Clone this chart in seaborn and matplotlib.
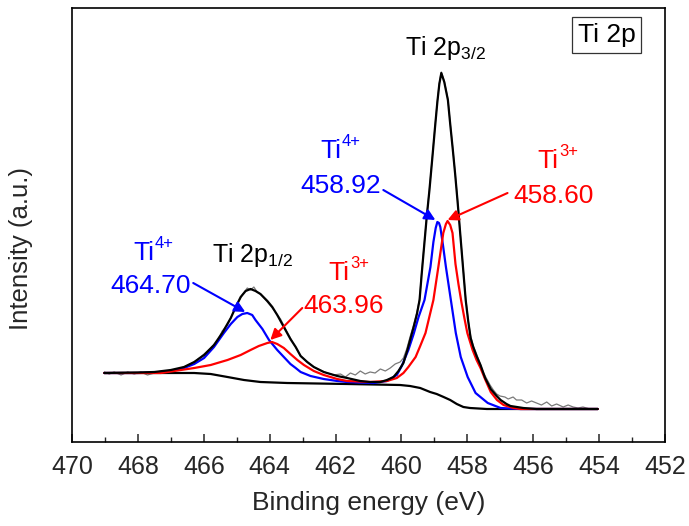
import numpy as np
import pandas as pd
import matplotlib
matplotlib.use("Agg")
import matplotlib.pyplot as plt
import seaborn as sns

# ---------------- data (binding energy in eV, intensity in a.u.) ----------------
raw_e = [469.02, 468.87, 468.72, 468.51, 468.31, 468.11, 467.91, 467.71, 467.50, 467.30, 467.10,
         466.90, 466.60, 466.29, 465.99, 465.79, 465.59, 465.44, 465.28, 465.13, 464.98, 464.83,
         464.68, 464.58, 464.48, 464.38, 464.28, 464.07, 463.92, 463.67, 463.47, 463.27, 463.06,
         462.86, 462.66, 462.46, 462.26, 462.06, 461.85, 461.70, 461.55, 461.40, 461.25, 461.10,
         460.95, 460.80, 460.64, 460.49, 460.34, 460.19, 460.04, 459.94, 459.84, 459.74, 459.63,
         459.53, 459.45, 459.38, 459.30, 459.23, 459.15, 459.06, 458.98, 458.91, 458.85, 458.79,
         458.70, 458.59, 458.52, 458.44, 458.37, 458.29, 458.20, 458.12, 458.05, 457.97, 457.90,
         457.82, 457.72, 457.62, 457.52, 457.41, 457.31, 457.21, 457.11, 457.01, 456.86, 456.76,
         456.61, 456.51, 456.35, 456.20, 456.05, 455.90, 455.75, 455.59, 455.44, 455.29, 455.09,
         454.94, 454.79, 454.64, 454.49, 454.28, 454.04]
raw_i = [70, 68, 70, 67, 70, 68, 70, 67, 69, 70, 71,
         72, 75, 80, 88, 94, 101, 111, 117, 128, 138, 147,
         154, 152, 155, 150, 148, 140, 134, 123, 110, 98, 86,
         80, 75, 72, 69, 67, 68, 65, 69, 67, 71, 68,
         70, 69, 73, 71, 74, 78, 80, 84, 93, 105, 117,
         130, 143, 172, 201, 227, 253, 286, 316, 341, 359, 370,
         361, 343, 319, 293, 269, 240, 203, 171, 144, 121, 106,
         96, 88, 79, 70, 63, 57, 52, 48, 46, 45, 43,
         45, 42, 42, 39, 41, 39, 37, 40, 36, 38, 35,
         37, 35, 34, 35, 33, 33]

env_e = [469.02, 468.01, 467.50, 467.00, 466.60, 466.29, 465.99, 465.69, 465.44, 465.18, 465.03,
         464.88, 464.73, 464.58, 464.43, 464.28, 464.07, 463.92, 463.77, 463.52, 463.37, 463.21,
         463.06, 462.86, 462.66, 462.36, 461.95, 461.65, 461.25, 460.95, 460.64, 460.44, 460.24,
         460.09, 459.94, 459.82, 459.63, 459.53, 459.45, 459.38, 459.30, 459.23, 459.15, 459.06,
         458.98, 458.91, 458.85, 458.79, 458.70, 458.59, 458.52, 458.44, 458.37, 458.29, 458.20,
         458.12, 458.05, 457.97, 457.90, 457.82, 457.72, 457.60, 457.46, 457.29, 457.11, 456.99,
         456.81, 456.69, 456.30, 455.90, 454.04]
env_i = [69, 69.5, 70, 72, 75, 80, 87, 97, 109, 124, 135,
         145, 151, 153, 151, 148, 141, 135, 127, 112, 103, 95,
         86, 80, 75, 70, 66, 64, 61, 60, 60, 62, 65,
         71, 79, 92, 115, 128, 142, 170, 200, 226, 252, 285,
         315, 340, 358, 369, 360, 342, 318, 292, 268, 238, 202,
         170, 142, 120, 104, 95, 86, 77, 64, 53, 46, 42,
         38, 36, 34, 33, 33]

bg_e = [469.02, 466.29, 465.79, 465.28, 464.78, 464.28, 463.47, 461.65, 460.04, 459.74, 459.43,
        459.13, 458.93, 458.72, 458.52, 458.32, 458.12, 457.92, 457.41, 454.04]
bg_i = [69, 69, 68, 65, 62, 60, 59, 58, 57, 56, 54,
        50, 48, 45, 42, 38, 35, 34, 33, 33]

ti4_e = [469.02, 468.01, 467.50, 467.00, 466.60, 466.29, 465.99, 465.69, 465.39, 465.18, 464.98,
         464.83, 464.68, 464.53, 464.43, 464.22, 464.02, 463.77, 463.57, 463.37, 463.21, 463.06,
         462.76, 462.36, 461.95, 461.65, 460.84, 460.44, 460.14, 459.99, 459.79, 459.63, 459.48,
         459.30, 459.12, 459.03, 458.96, 458.91, 458.86, 458.82, 458.74, 458.65, 458.50, 458.35,
         458.20, 457.99, 457.75, 457.38, 456.99, 456.40, 454.04]
ti4_i = [69, 69, 69.5, 71, 74, 78, 84, 95, 109, 118, 125,
         128, 129, 127, 122, 113, 102, 92, 85, 78, 74, 70,
         66, 63, 61, 60, 59, 61, 67, 76, 92, 108, 125,
         142, 175, 200, 214, 220, 219, 215, 197, 175, 142, 109,
         85, 65, 49, 39, 34, 33, 33]

ti3_e = [469.02, 467.30, 466.29, 465.79, 465.28, 464.88, 464.58, 464.33, 464.07, 463.93, 463.77,
         463.57, 463.37, 463.16, 462.96, 462.66, 462.36, 461.95, 461.65, 460.95, 460.44, 460.14,
         459.94, 459.79, 459.57, 459.43, 459.27, 459.03, 458.88, 458.73, 458.65, 458.60, 458.52,
         458.45, 458.36, 458.27, 458.18, 458.09, 458.00, 457.84, 457.72, 457.60, 457.45, 457.29,
         457.10, 456.90, 456.60, 456.38, 454.04]
ti3_i = [69, 69, 74, 77, 82, 87, 92, 96, 99, 100, 98,
         94, 88, 82, 77, 71, 67, 63, 61, 60, 61, 64,
         69, 75, 85, 96, 109, 142, 175, 209, 218, 221, 217,
         209, 178, 158, 140, 124, 109, 92, 82, 74, 62, 50,
         42, 37, 34, 33, 33]

x_ticks = [470, 468, 466, 464, 462, 460, 458, 456, 454, 452]

# ---------------- style ----------------
sns.set_theme(style="ticks")
plt.rcParams["font.family"] = ["Liberation Sans", "DejaVu Sans"]
plt.rcParams["mathtext.fontset"] = "custom"
plt.rcParams["mathtext.rm"] = "Liberation Sans"
plt.rcParams["mathtext.it"] = "Liberation Sans:italic"
plt.rcParams["mathtext.bf"] = "Liberation Sans:bold"
plt.rcParams["mathtext.sf"] = "Liberation Sans"

fig = plt.figure(figsize=(6.89, 5.26), dpi=100)
ax = fig.add_axes([72 / 689, 1 - 442 / 526, (665 - 72) / 689, (442 - 8) / 526])

raw = pd.DataFrame({"E": raw_e, "I": raw_i})
env = pd.DataFrame({"E": env_e, "I": env_i})
bg = pd.DataFrame({"E": bg_e, "I": bg_i})
t4 = pd.DataFrame({"E": ti4_e, "I": ti4_i})
t3 = pd.DataFrame({"E": ti3_e, "I": ti3_i})

sns.lineplot(data=raw, x="E", y="I", ax=ax, color="#7a7a7a", lw=0.9, estimator=None, sort=False)
sns.lineplot(data=bg, x="E", y="I", ax=ax, color="black", lw=1.6, estimator=None, sort=False)
sns.lineplot(data=t4, x="E", y="I", ax=ax, color="#0000ff", lw=1.6, estimator=None, sort=False)
sns.lineplot(data=t3, x="E", y="I", ax=ax, color="#ff0000", lw=1.6, estimator=None, sort=False)
sns.lineplot(data=env, x="E", y="I", ax=ax, color="black", lw=1.6, estimator=None, sort=False)

ax.set_xlim(470, 452)
ax.set_ylim(0, 434)
ax.set_xticks(x_ticks)
ax.set_xticklabels([str(t) for t in x_ticks])
ax.set_xticks(np.arange(453, 470, 2), minor=True)
ax.set_yticks([])
ax.tick_params(axis="x", which="major", direction="in", length=6, width=1.1,
               labelsize=18, pad=9, top=False)
ax.tick_params(axis="x", which="minor", direction="in", length=3.5, width=1.0, top=False)
for s in ax.spines.values():
    s.set_linewidth(1.2)
    s.set_color("black")

ax.set_xlabel("Binding energy (eV)", fontsize=19, labelpad=9)
ax.set_ylabel("Intensity (a.u.)", fontsize=18.5)
ax.yaxis.set_label_coords(-0.065, 0.447)

fs = 19
sup_fs = 12


def ion_label(x, y, charge, color):
    ax.text(x, y, "Ti", fontsize=fs, color=color, ha="left", va="baseline")
    ax.annotate(charge, xy=(x, y), xytext=(15.5, 8.6), textcoords="offset points",
                fontsize=sup_fs, color=color, ha="left", va="baseline")


# annotations (positions in data coordinates)
ax.text(459.88, 387, r"Ti 2p$_{\mathrm{3/2}}$", fontsize=18, color="black", ha="left", va="baseline")
ax.text(465.74, 180, r"Ti 2p$_{\mathrm{1/2}}$", fontsize=18, color="black", ha="left", va="baseline")

ion_label(468.15, 182, "4+", "#0000ff")
ax.text(468.84, 149, "464.70", fontsize=fs, color="#0000ff", ha="left", va="baseline")
ion_label(462.22, 162, "3+", "#ff0000")
ax.text(462.98, 129, "463.96", fontsize=fs, color="#ff0000", ha="left", va="baseline")

ion_label(462.46, 284, "4+", "#0000ff")
ax.text(463.07, 249, "458.92", fontsize=fs, color="#0000ff", ha="left", va="baseline")
ion_label(455.87, 274, "3+", "#ff0000")
ax.text(456.60, 239, "458.60", fontsize=fs, color="#ff0000", ha="left", va="baseline")

ax.text(453.77, 407, "Ti 2p", fontsize=19, color="black", ha="center", va="center",
        bbox=dict(boxstyle="square,pad=0.22", fc="white", ec="#333333", lw=0.9))

arrow = dict(arrowstyle="-|>", lw=1.5, mutation_scale=16, shrinkA=0, shrinkB=0)
ax.annotate("", xy=(464.74, 130), xytext=(466.32, 159),
            arrowprops=dict(arrow, color="#0000ff"))
ax.annotate("", xy=(463.98, 102), xytext=(463.01, 134),
            arrowprops=dict(arrow, color="#ff0000"))
ax.annotate("", xy=(458.97, 222), xytext=(460.55, 252),
            arrowprops=dict(arrow, color="#0000ff"))
ax.annotate("", xy=(458.60, 222), xytext=(456.78, 249),
            arrowprops=dict(arrow, color="#ff0000"))

fig.savefig("out.png", dpi=100)
